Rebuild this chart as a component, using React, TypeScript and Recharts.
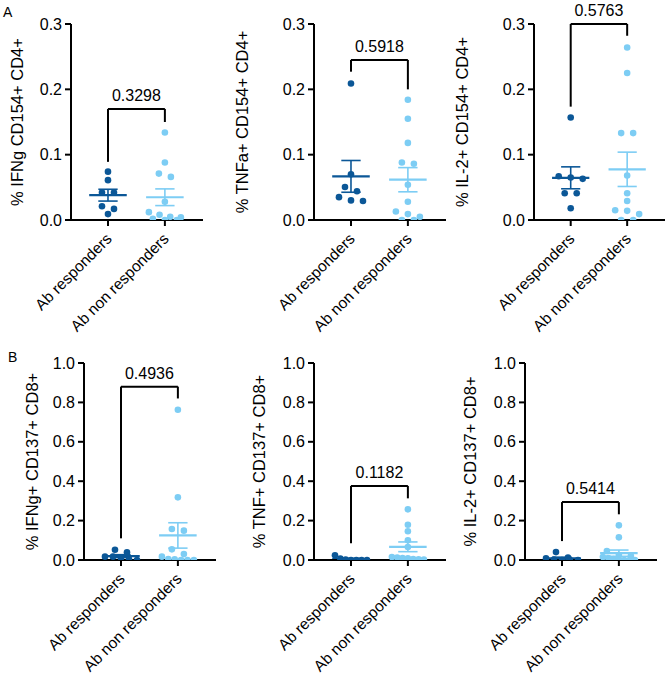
import { ScatterChart, Scatter, XAxis, YAxis, ReferenceLine, Label } from "recharts";

const groups = ["Ab responders", "Ab non responders"];
const yTitles = [
  "% IFNg CD154+ CD4+",
  "% TNFa+ CD154+ CD4+",
  "% IL-2+ CD154+ CD4+",
  "% IFNg+ CD137+ CD8+",
  "% TNF+ CD137+ CD8+",
  "% IL-2+ CD137+ CD8+",
];
const pValues = ["0.3298", "0.5918", "0.5763", "0.4936", "0.1182", "0.5414"];
const yMax = [0.3, 0.3, 0.3, 1, 1, 1];
const ticksCD4 = [0, 0.1, 0.2, 0.3];
const ticksCD8 = [0, 0.2, 0.4, 0.6, 0.8, 1.0];

// comparison brackets: height of the bar, and where each leg stops
const bracketTop = [0.17, 0.245, 0.3, 0.88, 0.376, 0.294];
const bracketLeftEnd = [0.089, 0.227, 0.1735, 0.11, 0.085, 0.096];
const bracketRightEnd = [0.15, 0.2, 0.282, 0.82, 0.313, 0.232];

// CD4+ (A)
const ifngCd4Resp = [0.074, 0.061, 0.042, 0.042, 0.021, 0.017, 0.009];
const ifngCd4NonResp = [0.134, 0.088, 0.071, 0.066, 0.028, 0.012, 0.008, 0.005, 0.004, 0.002, 0, 0];
const tnfCd4Resp = [0.209, 0.07, 0.0505, 0.044, 0.035, 0.03, 0.029];
const tnfCd4NonResp = [0.184, 0.155, 0.118, 0.088, 0.086, 0.054, 0.028, 0.013, 0.009, 0.005, 0, 0];
const il2Cd4Resp = [0.157, 0.067, 0.065, 0.063, 0.041, 0.041, 0.018];
const il2Cd4NonResp = [0.264, 0.225, 0.133, 0.133, 0.068, 0.041, 0.029, 0.015, 0.014, 0.009, 0, 0];

// CD8+ (B)
const ifngCd8Resp = [0.052, 0.039, 0.017, 0.017, 0.01, 0.003, 0];
const ifngCd8NonResp = [0.763, 0.318, 0.157, 0.149, 0.054, 0.03, 0.017, 0.005, 0.003, 0, 0, 0];
const tnfCd8Resp = [0.024, 0.007, 0.002, 0, 0, 0, 0];
const tnfCd8NonResp = [0.257, 0.179, 0.146, 0.1, 0.066, 0.015, 0.012, 0.01, 0.008, 0.005, 0.004, 0.002];
const il2Cd8Resp = [0.04, 0.012, 0.008, 0.002, 0, 0, 0];
const il2Cd8NonResp = [0.176, 0.115, 0.046, 0.025, 0.02, 0.015, 0.01, 0.005, 0.003, 0, 0, 0];

const responders = [ifngCd4Resp, tnfCd4Resp, il2Cd4Resp, ifngCd8Resp, tnfCd8Resp, il2Cd8Resp];
const nonResponders = [ifngCd4NonResp, tnfCd4NonResp, il2Cd4NonResp, ifngCd8NonResp, tnfCd8NonResp, il2Cd8NonResp];

const DARK = "#0B5797";
const LIGHT = "#7DCDF4";
const FONT = '"Liberation Sans", Arial, Helvetica, sans-serif';
const X_DOMAIN: [number, number] = [0.35, 2.67];

// chart boxes on the page (A row boxes run a little past 330 so the rotated labels are not clipped)
const boxes = [
  { left: 0, top: 0, w: 222, h: 342, yw: 71, mt: 24, mr: 19, xh: 122, lab: 17 },
  { left: 222, top: 0, w: 226, h: 342, yw: 92, mt: 24, mr: 2, xh: 122, lab: 19.7 },
  { left: 446, top: 0, w: 221, h: 342, yw: 88, mt: 24, mr: 2, xh: 122, lab: 15.7 },
  { left: 0, top: 330, w: 222, h: 344, yw: 84, mt: 33, mr: 6, xh: 114, lab: 31.7 },
  { left: 222, top: 330, w: 226, h: 344, yw: 92, mt: 33, mr: 2, xh: 114, lab: 37.3 },
  { left: 446, top: 330, w: 221, h: 344, yw: 79, mt: 33, mr: 10, xh: 114, lab: 24 },
];

// column-scatter layout: points close in value share a row, centred on the group
function swarm(values: number[], center: number, pxPerY: number, pxPerX: number) {
  const sorted = [...values].sort((a, b) => b - a);
  const rows: number[][] = [];
  for (const v of sorted) {
    const row = rows[rows.length - 1];
    if (row && (row[0] - v) * pxPerY < 6) row.push(v);
    else rows.push([v]);
  }
  const pts: { x: number; y: number }[] = [];
  rows.forEach((row) => {
    const n = row.length;
    const step = n > 1 ? Math.min(12, 32 / (n - 1)) : 0;
    row.forEach((v, i) => pts.push({ x: center + ((i - (n - 1) / 2) * step) / pxPerX, y: v }));
  });
  return pts;
}

function stats(values: number[]) {
  const n = values.length;
  const mean = values.reduce((s, v) => s + v, 0) / n;
  const sd = Math.sqrt(values.reduce((s, v) => s + (v - mean) ** 2, 0) / (n - 1));
  return { mean, sem: sd / Math.sqrt(n) };
}

const CategoryTick = (props: any) => {
  const { x, y, payload } = props;
  const ax = x + 1;
  const ay = y + 8;
  return (
    <text
      x={ax}
      y={ay}
      dy="0.35em"
      transform={`rotate(-45 ${ax} ${ay})`}
      textAnchor="end"
      fontSize={15.5}
      fill="#000"
    >
      {groups[Math.round(payload.value) - 1]}
    </text>
  );
};

function Panel({ i }: { i: number }) {
  const b = boxes[i];
  const plotW = b.w - b.yw - b.mr;
  const plotH = b.h - b.mt - b.xh;
  const pxPerY = plotH / yMax[i];
  const pxPerX = plotW / (X_DOMAIN[1] - X_DOMAIN[0]);
  const respPts = swarm(responders[i], 1, pxPerY, pxPerX);
  const nonPts = swarm(nonResponders[i], 2, pxPerY, pxPerX);
  const groupStats = [
    { c: 1, s: stats(responders[i]), color: DARK },
    { c: 2, s: stats(nonResponders[i]), color: LIGHT },
  ];

  const lines: any[] = [];
  groupStats.forEach(({ c, s, color }, k) => {
    const lo = s.mean - s.sem;
    const hi = s.mean + s.sem;
    lines.push(
      <ReferenceLine key={`m${k}`} segment={[{ x: c - 0.33, y: s.mean }, { x: c + 0.33, y: s.mean }]} stroke={color} strokeWidth={2.2} ifOverflow="visible" />,
      <ReferenceLine key={`v${k}`} segment={[{ x: c, y: lo }, { x: c, y: hi }]} stroke={color} strokeWidth={1.6} ifOverflow="visible" />,
      <ReferenceLine key={`h${k}`} segment={[{ x: c - 0.17, y: hi }, { x: c + 0.17, y: hi }]} stroke={color} strokeWidth={1.6} ifOverflow="visible" />,
      <ReferenceLine key={`l${k}`} segment={[{ x: c - 0.17, y: lo }, { x: c + 0.17, y: lo }]} stroke={color} strokeWidth={1.6} ifOverflow="visible" />
    );
  });

  const dot = (color: string) => (p: any) => <circle cx={p.cx} cy={p.cy} r={3.3} fill={color} />;

  return (
    <div style={{ position: "absolute", left: b.left, top: b.top }}>
      <ScatterChart width={b.w} height={b.h} margin={{ top: b.mt, right: b.mr, left: 0, bottom: 0 }}>
        <XAxis
          type="number"
          dataKey="x"
          domain={X_DOMAIN}
          ticks={[1, 2]}
          height={b.xh}
          allowDataOverflow
          axisLine={{ stroke: "#000", strokeWidth: 2 }}
          tickLine={{ stroke: "#000", strokeWidth: 2 }}
          tickSize={6}
          tick={<CategoryTick />}
        />
        <YAxis
          type="number"
          dataKey="y"
          domain={[0, yMax[i]]}
          ticks={i < 3 ? ticksCD4 : ticksCD8}
          width={b.yw}
          allowDataOverflow
          axisLine={{ stroke: "#000", strokeWidth: 2 }}
          tickLine={{ stroke: "#000", strokeWidth: 2 }}
          tickSize={6}
          tickMargin={3}
          tick={{ fill: "#000", fontSize: 16 }}
          tickFormatter={(v: number) => v.toFixed(1)}
        >
          <Label
            value={yTitles[i]}
            angle={-90}
            position="insideLeft"
            offset={b.lab}
            fontSize={16.5}
            fill="#000"
            style={{ textAnchor: "middle" }}
          />
        </YAxis>
        <Scatter data={respPts} shape={dot(DARK)} isAnimationActive={false} />
        <Scatter data={nonPts} shape={dot(LIGHT)} isAnimationActive={false} />
        {lines}
        <ReferenceLine segment={[{ x: 1, y: bracketLeftEnd[i] }, { x: 1, y: bracketTop[i] }]} stroke="#000" strokeWidth={2} ifOverflow="visible" />
        <ReferenceLine segment={[{ x: 2, y: bracketRightEnd[i] }, { x: 2, y: bracketTop[i] }]} stroke="#000" strokeWidth={2} ifOverflow="visible" />
        <ReferenceLine
          segment={[{ x: 1, y: bracketTop[i] }, { x: 2, y: bracketTop[i] }]}
          stroke="#000"
          strokeWidth={2}
          ifOverflow="visible"
          label={{ value: pValues[i], position: "top", offset: 8, fontSize: 16, fill: "#000" }}
        />
      </ScatterChart>
    </div>
  );
}

export default function App() {
  return (
    <div style={{ position: "absolute", left: 0, top: 0, width: 667, height: 674, background: "#fff", fontFamily: FONT }}>
      {[0, 1, 2, 3, 4, 5].map((i) => (
        <Panel key={i} i={i} />
      ))}
      <div style={{ position: "absolute", left: 3, top: 5, fontSize: 14, lineHeight: 1 }}>A</div>
      <div style={{ position: "absolute", left: 8, top: 350, fontSize: 14, lineHeight: 1 }}>B</div>
    </div>
  );
}
